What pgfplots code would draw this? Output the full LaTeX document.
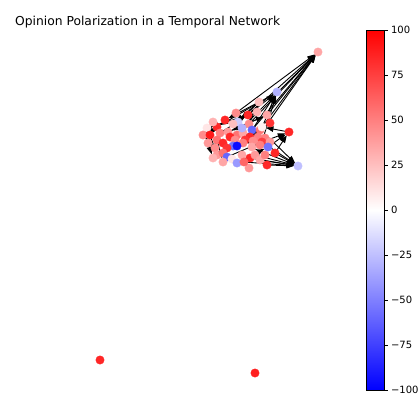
\documentclass[border=0pt]{standalone}
\usepackage{pgfplots}
\pgfplotsset{compat=1.18}
\usepackage{pgfplotstable}
\usepackage{fontspec}
\setmainfont{DejaVu Sans}
\usetikzlibrary{arrows.meta}
\pgfplotsset{colormap={bwr}{rgb255=(0,0,255) rgb255=(255,255,255) rgb255=(255,0,0)}}

\pgfplotstableread{
x y v
100 360 85
255 373 88
318 52 35
277 92 -30
259 102 25
298 166 -25
267 115 35
248 115 85
257 112 30
236 113 45
270 123 80
238 122 -20
225 120 85
233 124 25
217 127 85
207 128 10
213 122 30
203 135 45
210 135 90
220 133 50
228 132 40
237 135 55
243 133 35
249 124 45
242 128 -30
252 130 -60
260 130 55
250 137 85
258 137 50
265 138 50
289 132 85
208 143 40
217 140 55
223 143 85
230 137 85
235 140 45
245 140 80
253 141 45
262 142 75
270 142 40
243 143 50
233 146 -55
237 146 -95
252 147 35
260 145 50
227 148 80
215 148 45
268 147 -55
275 153 85
217 155 40
223 153 55
227 157 -60
232 159 10
242 155 35
250 158 85
255 155 40
260 160 35
265 155 50
223 162 35
237 163 -40
249 168 40
267 165 85
213 158 30
244 162 60
262 127 5
}\nodes

\pgfplotstableread{
x y x2 y2
248 115 318 52
252 130 318 52
262 127 318 52
258 137 318 52
267 115 318 52
242 128 318 52
236 113 318 52
249 124 318 52
248 115 277 92
258 137 277 92
262 142 277 92
267 115 277 92
252 130 277 92
249 124 259 102
243 133 259 102
259 102 225 120
267 115 228 132
277 92 217 127
259 102 238 122
248 115 207 128
259 102 233 124
260 130 262 127
252 147 262 127
250 137 262 127
250 147 298 166
255 155 298 166
262 142 298 166
268 137 298 166
250 158 298 166
267 165 298 166
275 153 298 166
260 160 298 166
244 162 298 166
289 132 262 127
268 147 289 132
275 153 289 132
262 142 289 132
203 135 215 148
208 143 213 158
210 135 217 155
217 127 203 135
225 120 210 135
207 128 208 143
217 140 223 162
237 146 252 130
233 146 258 137
227 148 243 133
245 140 270 123
227 157 262 142
237 163 268 147
220 133 248 115
228 132 267 115
}\edges

\begin{document}
\begin{tikzpicture}
\begin{axis}[at={(0pt,0pt)}, anchor=south west, width=419pt, height=394pt,
  scale only axis, xmin=0, xmax=419, ymin=0, ymax=394, y dir=reverse,
  hide axis, clip=false, colormap name=bwr,
  point meta min=-100, point meta max=100]
\addplot[quiver={u=\thisrow{x2}-\thisrow{x}, v=\thisrow{y2}-\thisrow{y}},
  black, line width=0.9pt, -{Stealth[length=7.5pt,width=5.5pt,inset=0pt]}, shorten >=4pt]
  table {\edges};
\addplot[scatter, only marks, mark=*, mark size=4.2pt,
  point meta=\thisrow{v},
  scatter/use mapped color={draw=mapped color, fill=mapped color}]
  table[x=x, y=y] {\nodes};
\node[anchor=base west, font=\fontsize{12.3}{14}\selectfont, inner sep=0pt]
  at (axis cs:15,25) {Opinion Polarization in a Temporal Network};
\end{axis}
\begin{axis}[at={(366pt,4pt)}, anchor=south west, width=18pt, height=360pt,
  scale only axis, xmin=0, xmax=1, ymin=-100, ymax=100,
  xtick=\empty, ytick={-100,-75,-50,-25,0,25,50,75,100},
  yticklabels={−100,−75,−50,−25,0,25,50,75,100},
  yticklabel pos=right, ytick pos=right, tick align=outside,
  major tick length=3.5pt, tick style={black, line width=0.8pt},
  yticklabel style={font=\fontsize{10}{12}\selectfont, anchor=west},
  axis line style={line width=0.8pt},
  colormap name=bwr, point meta min=-100, point meta max=100,
  enlargelimits=false, axis on top]
\addplot[surf, shader=interp, mesh/cols=2, point meta=y]
  coordinates {(0,-100) (1,-100) (0,100) (1,100)};
\end{axis}
\pgfresetboundingbox
\path[use as bounding box] (0,0) rectangle (419pt,394pt);
\end{tikzpicture}
\end{document}
